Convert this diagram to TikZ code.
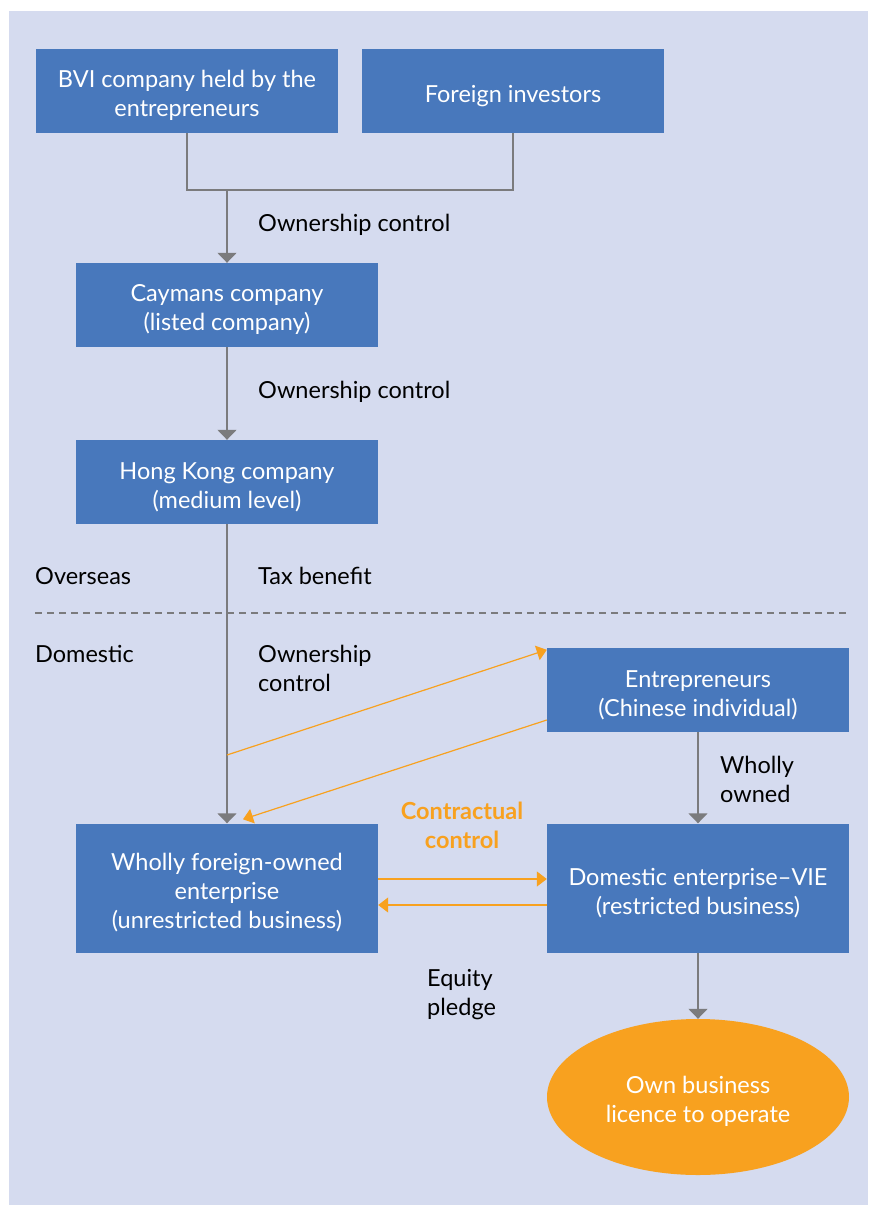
\documentclass[tikz,border=0pt]{standalone}
\usepackage{fontspec}
\setmainfont{Lato}
\usetikzlibrary{arrows.meta,shapes.geometric}
\definecolor{bgcol}{HTML}{D5DBEF}
\definecolor{boxblue}{HTML}{4878BC}
\definecolor{vieorange}{HTML}{F8A11F}
\definecolor{linegray}{HTML}{7B7B7D}
\newcommand{\topstrut}{\rule{0pt}{27pt}}
\tikzset{
  entity/.style={fill=boxblue,text=white,minimum width=302pt,minimum height=84pt,align=center,inner sep=0pt,font=\fontsize{23.5}{29}\selectfont},
  label/.style={anchor=west,inner sep=0pt,align=left,font=\fontsize{23.5}{29}\selectfont},
  own/.style={draw=linegray,line width=1.5pt,-{Triangle[width=19pt,length=10pt]}},
  contract/.style={draw=vieorange,line width=1.2pt,-{Triangle[width=15pt,length=10pt]}}
}
\begin{document}
\begin{tikzpicture}[x=1pt,y=-1pt]
        \useasboundingbox (0,0) rectangle (868,1205);
        \fill[bgcol] (9,11) rectangle (868,1205);
        % offshore side
        \node[entity] (bvi) at (187,91) {\topstrut BVI company held by the\\entrepreneurs};
        \node[entity] (foreign) at (513,91) {\topstrut Foreign investors};
        \node[entity] (caymans) at (227,305) {\topstrut Caymans company\\(listed company)};
        \node[entity] (hk) at (227,482) {\topstrut Hong Kong company\\(medium level)};
        % onshore side
        \node[entity] (entre) at (698,690) {\topstrut Entrepreneurs\\(Chinese individual)};
        \node[entity,minimum height=129pt] (wfoe) at (227,888) {\topstrut Wholly foreign-owned\\enterprise\\(unrestricted business)};
        \node[entity,minimum height=129pt] (vie) at (698,888) {\topstrut Domestic enterprise--VIE\\(restricted business)};
        \node[entity,ellipse,fill=vieorange,minimum height=156pt] (licence) at (698,1097) {\topstrut Own business\\licence to operate};
        \coordinate (merge) at (227,190);
        \coordinate (split) at (227,755);
        \draw[linegray,line width=1.5pt] (bvi.south) |- (merge) -| (foreign.south);
        \draw[own] (merge) -- (caymans.north);
        \draw[own] (caymans.south) -- (hk.north);
        \draw[own] (hk.south) -- (wfoe.north);
        \draw[own] (entre.south) -- (vie.north);
        \draw[own] (vie.south) -- (licence.north);
        \draw[contract] (split) -- ([yshift=-2pt]entre.north west);
        \draw[contract] ([yshift=-30pt]entre.west) -- ([xshift=16pt,yshift=4pt]wfoe.north);
        \draw[contract] ([yshift=9pt]wfoe.east) -- ([yshift=9pt]vie.west);
        \draw[contract] ([yshift=-17pt]vie.west) -- ([yshift=-17pt]wfoe.east);
        \draw[linegray,line width=1.2pt,dash pattern=on 7pt off 5pt] (35,613) -- (850,613);
        % texts
        \node[label] (own1) at (258,225) {Ownership control};
        \node[label] (own2) at (258,392) {Ownership control};
        \node[label] (overseas) at (35,576) {Overseas};
        \node[label] (tax) at (258,576) {Tax benefit};
        \node[label] (domestic) at (35,654) {Domestic};
        \node[label] (own3) at (258,668) {Ownership\\control};
        \node[label] (wholly) at (720,779) {Wholly\\owned};
        \node[label,anchor=center,align=center,text=vieorange,font=\fontsize{23.5}{29}\selectfont\bfseries] (ctrl) at (462,825) {Contractual\\control};
        \node[label] (pledge) at (427,995) {Equity\\pledge};
    \end{tikzpicture}
\end{document}
